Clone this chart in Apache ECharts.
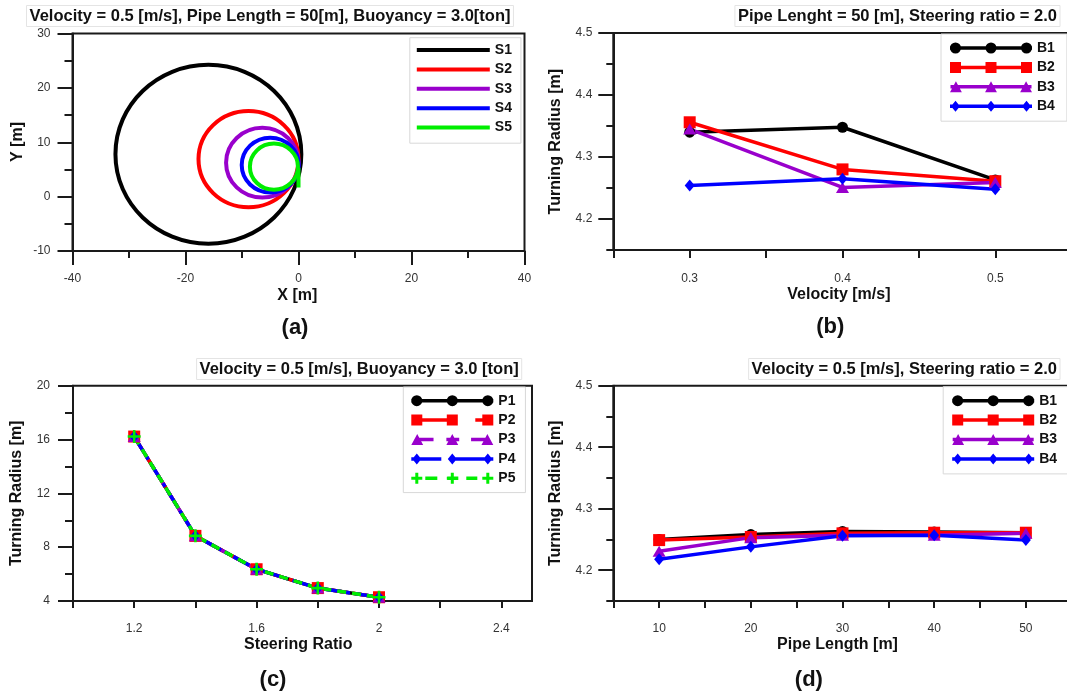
<!DOCTYPE html>
<html><head><meta charset="utf-8">
<script src="https://cdn.jsdelivr.net/npm/echarts@6/dist/echarts.min.js"></script>
<style>html,body{margin:0;padding:0;background:#fff}#c{width:1067px;height:695px}</style>
</head><body><div id="c"></div>
<script>
// ---------- (a) trajectories: [centre x, centre y, radius] in metres ----------
const trajNames = ['S1', 'S2', 'S3', 'S4', 'S5'];
const trajS1 = [-15.95, 7.8, 16.45];
const trajS2 = [-8.85, 6.9, 8.85];
const trajS3 = [-6.4, 6.25, 6.42];
const trajS4 = [-5.0, 5.8, 5.05];
const trajS5 = [-4.35, 5.5, 4.25];
const tailS5 = [[0.0, 1.7], [0.0, 5.3]];
const aXTicks = [-40, -20, 0, 20, 40];
const aXMinor = [-30, -10, 10, 30];
const aYTicks = [-10, 0, 10, 20, 30];
const aYMinor = [-5, 5, 15, 25];

// ---------- (b) turning radius vs velocity ----------
const velocity = [0.3, 0.4, 0.5];
const velB1 = [4.340, 4.348, 4.263];
const velB2 = [4.356, 4.280, 4.261];
const velB3 = [4.345, 4.251, 4.259];
const velB4 = [4.254, 4.265, 4.248];
const bXTicks = [0.25, 0.3, 0.35, 0.4, 0.45, 0.5];
const bXLabels = [0.3, 0.4, 0.5];
const rYTicks = [4.2, 4.3, 4.4, 4.5];
const rYMinor = [4.15, 4.25, 4.35, 4.45];

// ---------- (c) turning radius vs steering ratio ----------
const steering = [1.2, 1.4, 1.6, 1.8, 2.0];
const steerP1 = [16.22, 8.84, 6.36, 4.96, 4.28];
const steerP2 = [16.22, 8.84, 6.36, 4.96, 4.28];
const steerP3 = [16.22, 8.84, 6.36, 4.96, 4.28];
const steerP4 = [16.22, 8.84, 6.36, 4.96, 4.28];
const steerP5 = [16.22, 8.84, 6.36, 4.96, 4.28];
const cXTicks = [1.0, 1.2, 1.4, 1.6, 1.8, 2.0, 2.2, 2.4];
const cXLabels = [1.2, 1.6, 2.0, 2.4];
const cYTicks = [4, 8, 12, 16, 20];
const cYMinor = [6, 10, 14, 18];

// ---------- (d) turning radius vs pipe length ----------
const pipeLength = [10, 20, 30, 40, 50];
const pipeB1 = [4.250, 4.258, 4.263, 4.262, 4.261];
const pipeB2 = [4.249, 4.254, 4.260, 4.261, 4.261];
const pipeB3 = [4.231, 4.253, 4.257, 4.257, 4.260];
const pipeB4 = [4.218, 4.238, 4.256, 4.257, 4.249];
const dXTicks = [5, 10, 15, 20, 25, 30, 35, 40, 45, 50];
const dXLabels = [10, 20, 30, 40, 50];

// ---------- styling helpers ----------
const FF = '"Liberation Sans", Arial, Helvetica, sans-serif';
const INK = '#1a1a1a';
const COL = {black: '#000000', red: '#ff0000', purple: '#9900cc', blue: '#0000ff', green: '#00ee00'};

function axis(o) {
  return {
    type: 'value', gridIndex: o.grid, min: o.min, max: o.max, position: o.pos,
    axisLine: {show: o.line !== false, onZero: false, lineStyle: {color: INK, width: 2}},
    axisTick: {show: true, customValues: o.ticks, length: o.len, lineStyle: {color: INK, width: 2}},
    axisLabel: o.labels ? {show: true, customValues: o.labels, margin: o.margin, color: '#333',
      fontSize: 12, fontFamily: FF} : {show: false},
    splitLine: {show: false}, minorTick: {show: false}
  };
}

// legend icon paths (82 x 11 box)
const H = 5.5;
function seg(x0, x1) { return `M${x0} 3.75 H${x1} V7.25 H${x0} Z `; }
function circ(cx) { return `M${cx - H} 5.5 A${H} ${H} 0 1 1 ${cx + H} 5.5 A${H} ${H} 0 1 1 ${cx - H} 5.5 Z `; }
function sq(cx) { return `M${cx - H} 0 H${cx + H} V11 H${cx - H} Z `; }
function tri(cx) { return `M${cx} 0 L${cx + 6} 11 H${cx - 6} Z `; }
function dia(cx) { return `M${cx} 0 L${cx + 4.5} 5.5 L${cx} 11 L${cx - 4.5} 5.5 Z `; }
function plus(cx) { return `M${cx - 1.5} 0 H${cx + 1.5} V4 H${cx + H} V7 H${cx + 1.5} V11 H${cx - 1.5} V7 H${cx - H} V4 H${cx - 1.5} Z `; }
const M3 = [5.5, 41, 76.5];
const iconB1 = 'path://' + seg(0, 82) + M3.map(circ).join('');
const iconB2 = 'path://' + seg(0, 82) + M3.map(sq).join('');
const iconB3 = 'path://' + seg(0, 82) + M3.map(tri).join('');
const iconB4 = 'path://' + seg(0, 82) + M3.map(dia).join('');
const iconP2 = 'path://' + seg(5, 41) + seg(64, 77) + M3.map(sq).join('');
const iconP3 = 'path://' + seg(5, 22) + seg(35, 48) + seg(60, 77) + M3.map(tri).join('');
const iconP4 = 'path://' + seg(0, 30) + seg(41, 82) + M3.map(dia).join('');
const iconP5 = 'path://' + seg(14, 26) + seg(36, 47) + seg(55, 66) + M3.map(plus).join('');
const plusSymbol = 'path://M4 0H6V4H10V6H6V10H4V6H0V4H4Z';

function legendBox(o) {
  return {
    orient: 'vertical', left: o.left, top: o.top, padding: o.padding, itemGap: 5.4,
    itemWidth: o.iw, itemHeight: o.ih, selectedMode: false,
    backgroundColor: '#fff', borderColor: '#d8d8d8', borderWidth: 1,
    textStyle: {fontSize: 14, fontWeight: 'bold', color: '#111', fontFamily: FF, lineHeight: 14},
    data: o.data
  };
}

function lineSeries(name, xs, ys, xi, yi, color, symbol, size, dash) {
  return {
    type: 'line', name: name, xAxisIndex: xi, yAxisIndex: yi,
    data: xs.map((x, i) => [x, ys[i]]),
    symbol: symbol, symbolSize: size, showSymbol: true,
    lineStyle: {color: color, width: 3.5, type: dash || 'solid'},
    itemStyle: {color: color}, animation: false, z: 3
  };
}

function circleSeries(name, circle, color) {
  return {
    type: 'custom', name: name, xAxisIndex: 0, yAxisIndex: 0,
    dimensions: ['cx', 'cy', 'r'], encode: {x: 0, y: 1},
    data: [circle], itemStyle: {color: color}, animation: false,
    renderItem: function (params, api) {
      const c = api.coord([api.value(0), api.value(1)]);
      const s = api.size([api.value(2), api.value(2)]);
      return {type: 'ellipse', shape: {cx: c[0], cy: c[1], rx: s[0], ry: s[1]},
        style: {fill: 'none', stroke: api.visual('color'), lineWidth: 4}};
    }
  };
}

function txt(text, x, y, size, align, rot, boxed) {
  const st = {text: text, font: `bold ${size}px ${FF}`, fill: '#111',
    textAlign: align, textVerticalAlign: 'middle'};
  if (boxed) { st.borderColor = '#e4e4e4'; st.borderWidth = 1; st.padding = [2, 3, 2, 3]; }
  return {type: 'text', x: x, y: y, rotation: rot || 0, style: st, z: 10};
}

const gridBase = {show: true, borderColor: INK, borderWidth: 2, outerBoundsMode: 'none', containLabel: false};

const option = {
  backgroundColor: '#fff',
  animation: false,
  grid: [
    Object.assign({left: 72.5, top: 33.5, width: 452, height: 217.5}, gridBase),
    Object.assign({left: 613.3, top: 33, width: 458.4, height: 217}, gridBase),
    Object.assign({left: 73, top: 385.7, width: 459, height: 215.3}, gridBase),
    Object.assign({left: 613.3, top: 385.7, width: 458.4, height: 215.3}, gridBase)
  ],
  xAxis: [
    axis({grid: 0, min: -40, max: 40, pos: 'bottom', ticks: aXTicks, labels: aXTicks, len: 14, margin: 22}),
    axis({grid: 0, min: -40, max: 40, pos: 'bottom', ticks: aXMinor, len: 7, line: false}),
    axis({grid: 1, min: 0.25, max: 0.55, pos: 'bottom', ticks: bXTicks, labels: bXLabels, len: 8, margin: 23}),
    axis({grid: 2, min: 1.0, max: 2.5, pos: 'bottom', ticks: cXTicks, labels: cXLabels, len: 7, margin: 22}),
    axis({grid: 3, min: 5, max: 55, pos: 'bottom', ticks: dXTicks, labels: dXLabels, len: 7, margin: 22})
  ],
  yAxis: [
    axis({grid: 0, min: -10, max: 30, pos: 'left', ticks: aYTicks, labels: aYTicks, len: 15, margin: 22}),
    axis({grid: 0, min: -10, max: 30, pos: 'left', ticks: aYMinor, len: 8, line: false}),
    axis({grid: 1, min: 4.15, max: 4.5, pos: 'left', ticks: rYTicks, labels: rYTicks, len: 15, margin: 21}),
    axis({grid: 1, min: 4.15, max: 4.5, pos: 'left', ticks: rYMinor, len: 7, line: false}),
    axis({grid: 2, min: 4, max: 20, pos: 'left', ticks: cYTicks, labels: cYTicks, len: 15, margin: 23}),
    axis({grid: 2, min: 4, max: 20, pos: 'left', ticks: cYMinor, len: 8, line: false}),
    axis({grid: 3, min: 4.15, max: 4.5, pos: 'left', ticks: rYTicks, labels: rYTicks, len: 15, margin: 21}),
    axis({grid: 3, min: 4.15, max: 4.5, pos: 'left', ticks: rYMinor, len: 7, line: false})
  ],
  legend: [
    legendBox({left: 409.8, top: 37.7, padding: [5.3, 9, 8.6, 7], iw: 73, ih: 4,
      data: trajNames.map(n => ({name: n, icon: 'rect'}))}),
    legendBox({left: 941, top: 34, padding: [7, 12, 8, 9], iw: 82, ih: 11,
      data: [{name: 'B1', icon: iconB1}, {name: 'B2', icon: iconB2}, {name: 'B3', icon: iconB3}, {name: 'B4', icon: iconB4}]}),
    legendBox({left: 403.3, top: 387, padding: [6.7, 10, 7.3, 8], iw: 82, ih: 11,
      data: [{name: 'P1', icon: iconB1}, {name: 'P2', icon: iconP2}, {name: 'P3', icon: iconP3},
        {name: 'P4', icon: iconP4}, {name: 'P5', icon: iconP5}]}),
    legendBox({left: 943.2, top: 386.7, padding: [7, 12, 8, 9], iw: 82, ih: 11,
      data: [{name: 'B1', icon: iconB1}, {name: 'B2', icon: iconB2}, {name: 'B3', icon: iconB3}, {name: 'B4', icon: iconB4}]})
  ],
  series: [
    circleSeries('S1', trajS1, COL.black),
    circleSeries('S2', trajS2, COL.red),
    circleSeries('S3', trajS3, COL.purple),
    circleSeries('S4', trajS4, COL.blue),
    circleSeries('S5', trajS5, COL.green),
    {type: 'line', name: 'S5', xAxisIndex: 0, yAxisIndex: 0, data: tailS5, showSymbol: false,
      symbol: 'none', lineStyle: {color: COL.green, width: 4}, itemStyle: {color: COL.green}, animation: false},

    lineSeries('B1', velocity, velB1, 2, 2, COL.black, 'circle', 11),
    lineSeries('B2', velocity, velB2, 2, 2, COL.red, 'rect', 12),
    lineSeries('B3', velocity, velB3, 2, 2, COL.purple, 'triangle', [13, 11]),
    lineSeries('B4', velocity, velB4, 2, 2, COL.blue, 'diamond', [10, 12]),

    lineSeries('P1', steering, steerP1, 3, 4, COL.black, 'circle', 11),
    lineSeries('P2', steering, steerP2, 3, 4, COL.red, 'rect', 12, [16, 6]),
    lineSeries('P3', steering, steerP3, 3, 4, COL.purple, 'triangle', [13, 11], [10, 6]),
    lineSeries('P4', steering, steerP4, 3, 4, COL.blue, 'diamond', [10, 12], [18, 5, 4, 5]),
    lineSeries('P5', steering, steerP5, 3, 4, COL.green, plusSymbol, 13, [9, 6]),

    lineSeries('B1', pipeLength, pipeB1, 4, 6, COL.black, 'circle', 11),
    lineSeries('B2', pipeLength, pipeB2, 4, 6, COL.red, 'rect', 12),
    lineSeries('B3', pipeLength, pipeB3, 4, 6, COL.purple, 'triangle', [13, 11]),
    lineSeries('B4', pipeLength, pipeB4, 4, 6, COL.blue, 'diamond', [10, 12])
  ],
  graphic: [
    txt('Velocity = 0.5 [m/s], Pipe Length = 50[m], Buoyancy = 3.0[ton]', 270, 16, 16.5, 'center', 0, true),
    txt('Pipe Lenght = 50 [m], Steering ratio = 2.0', 1060, 16, 16.5, 'right', 0, true),
    txt('Velocity = 0.5 [m/s], Buoyancy = 3.0 [ton]', 521.7, 369, 16.5, 'right', 0, true),
    txt('Velocity = 0.5 [m/s], Steering ratio = 2.0', 1060, 369, 16.5, 'right', 0, true),
    txt('X [m]', 297.3, 295.7, 16, 'center'),
    txt('Y [m]', 17.2, 142, 16, 'center', Math.PI / 2),
    txt('Velocity [m/s]', 838.9, 295, 16, 'center'),
    txt('Turning Radius [m]', 555.8, 141.7, 16, 'center', Math.PI / 2),
    txt('Steering Ratio', 298.2, 645, 16, 'center'),
    txt('Turning Radius [m]', 17, 493.3, 16, 'center', Math.PI / 2),
    txt('Pipe Length [m]', 837.5, 645, 16, 'center'),
    txt('Turning Radius [m]', 555.8, 493.3, 16, 'center', Math.PI / 2),
    txt('(a)', 295, 328, 22, 'center'),
    txt('(b)', 830.3, 327, 22, 'center'),
    txt('(c)', 273, 680, 22, 'center'),
    txt('(d)', 808.9, 680, 22, 'center')
  ]
};

const chart = echarts.init(document.getElementById('c'), null, {renderer: 'canvas'});
chart.setOption(option);
</script>
</body></html>
